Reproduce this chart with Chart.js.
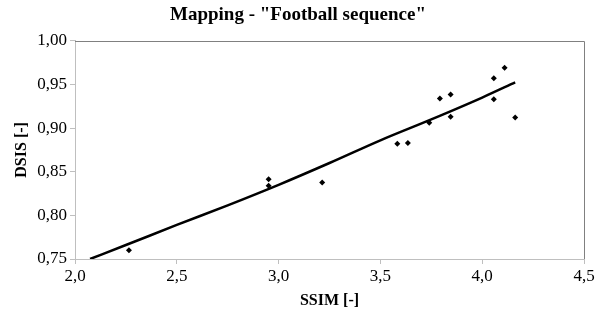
<!DOCTYPE html>
<html>
<head>
<meta charset="utf-8">
<script src="https://cdn.jsdelivr.net/npm/chart.js@4.4.0/dist/chart.umd.min.js"></script>
<style>
html, body { margin: 0; padding: 0; background: #fff; }
</style>
</head>
<body>
<canvas id="graficoMapping" width="603" height="314"></canvas>
<script>
// Puntos medidos (SSIM vs DSIS)
const ssimPuntos = [2.265, 2.951, 2.951, 3.214, 3.583, 3.635, 3.740, 3.792, 3.845, 3.845, 4.057, 4.057, 4.110, 4.162];
const dsisPuntos = [0.760, 0.8415, 0.834, 0.8377, 0.882, 0.883, 0.906, 0.934, 0.9386, 0.913, 0.957, 0.933, 0.969, 0.912];

// Curva de ajuste
const ssimCurva = [2.074, 2.25, 2.5, 2.75, 3.0, 3.25, 3.5, 3.75, 4.0, 4.162];
const dsisCurva = [0.750, 0.766, 0.789, 0.8115, 0.835, 0.860, 0.886, 0.910, 0.935, 0.9524];

const ticksX = [2.0, 2.5, 3.0, 3.5, 4.0, 4.5];
const ticksY = [0.75, 0.80, 0.85, 0.90, 0.95, 1.00];

const fuente = "'Liberation Serif', 'Times New Roman', serif";

const marco = {
    id: 'marco',
    afterDraw(chart) {
        const { ctx, chartArea: a } = chart;
        ctx.save();
        ctx.strokeStyle = '#808080';
        ctx.lineWidth = 1;
        ctx.beginPath();
        ctx.moveTo(a.left, Math.round(a.top) + 0.5);
        ctx.lineTo(Math.round(a.right) + 0.5, Math.round(a.top) + 0.5);
        ctx.lineTo(Math.round(a.right) + 0.5, a.bottom);
        ctx.stroke();
        ctx.restore();
    }
};

document.addEventListener('DOMContentLoaded', () => {
    const ctx = document.getElementById('graficoMapping').getContext('2d');

    new Chart(ctx, {
        type: 'scatter',
        data: {
            datasets: [
                {
                    label: 'Medidas',
                    data: ssimPuntos.map((x, i) => ({ x: x, y: dsisPuntos[i] })),
                    pointStyle: 'rectRot',
                    pointRadius: 3,
                    backgroundColor: '#000',
                    borderColor: '#000',
                    borderWidth: 0
                },
                {
                    label: 'Ajuste',
                    data: ssimCurva.map((x, i) => ({ x: x, y: dsisCurva[i] })),
                    showLine: true,
                    pointRadius: 0,
                    borderColor: '#000',
                    borderWidth: 2.5,
                    cubicInterpolationMode: 'monotone',
                    fill: false
                }
            ]
        },
        options: {
            responsive: false,
            animation: false,
            layout: { padding: { left: 12, right: 19, top: 0, bottom: 4 } },
            plugins: {
                legend: { display: false },
                tooltip: { enabled: false },
                title: {
                    display: true,
                    text: 'Mapping - "Football sequence"',
                    color: '#000',
                    font: { family: fuente, size: 19, weight: 'bold' },
                    padding: { top: 4, bottom: 14 }
                }
            },
            scales: {
                x: {
                    type: 'linear',
                    min: 2.0,
                    max: 4.5,
                    afterBuildTicks: s => { s.ticks = ticksX.map(v => ({ value: v })); },
                    afterFit: s => { s.height = 51; },
                    ticks: {
                        color: '#000',
                        font: { family: fuente, size: 17 },
                        padding: 2,
                        callback: v => v.toFixed(1).replace('.', ',')
                    },
                    grid: { drawOnChartArea: false, color: '#bfbfbf', tickLength: 5 },
                    border: { color: '#bfbfbf' },
                    title: {
                        display: true,
                        text: 'SSIM [-]',
                        color: '#000',
                        font: { family: fuente, size: 16, weight: 'bold' },
                        padding: { top: 0, bottom: 0 }
                    }
                },
                y: {
                    type: 'linear',
                    min: 0.75,
                    max: 1.0,
                    afterBuildTicks: s => { s.ticks = ticksY.map(v => ({ value: v })); },
                    afterFit: s => { s.width = 63; },
                    ticks: {
                        color: '#000',
                        font: { family: fuente, size: 17 },
                        padding: 3,
                        callback: v => v.toFixed(2).replace('.', ',')
                    },
                    grid: { drawOnChartArea: false, color: '#bfbfbf', tickLength: 5 },
                    border: { color: '#bfbfbf' },
                    title: {
                        display: true,
                        text: 'DSIS [-]',
                        color: '#000',
                        font: { family: fuente, size: 16, weight: 'bold' },
                        padding: { top: 0, bottom: 0 }
                    }
                }
            }
        },
        plugins: [marco]
    });
});
</script>
</body>
</html>
